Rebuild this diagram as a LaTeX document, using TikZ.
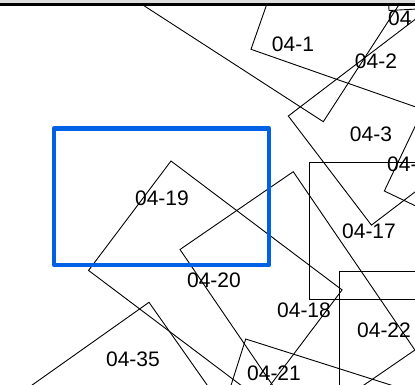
\documentclass[tikz,border=0pt]{standalone}
\usepackage{fontspec}
\setmainfont{Liberation Sans}
\definecolor{selblue}{RGB}{0,96,230}
\definecolor{topgrey}{RGB}{222,222,222}

\begin{document}
\begin{tikzpicture}[x=1pt, y=-1pt,
    lot/.style={draw=black, line width=0.9pt},
    lotlabel/.style={font=\fontsize{21}{25}\selectfont, inner sep=0pt},
    selbox/.style={draw=selblue, line width=4.8pt, line join=round}]
    \useasboundingbox (0,0) rectangle (415,384);
    \clip (0,0) rectangle (415,384);
    \fill[topgrey] (0,0) rectangle (415,3.2);

    \begin{scope}
    \clip (0,4) rectangle (415,384);
    % lots, one corner and two sides each
    \draw[lot] (251,49.3) -- ++(19.3:250) -- ++(-70.7:150) -- ++(199.3:250) -- cycle;
    \draw[lot] (323.3,121.7) -- ++(-57.1:150) -- ++(212.9:250) -- ++(122.9:150) -- cycle;
    \draw[lot] (288.3,116) -- ++(52.7:137.2) -- ++(-37.3:200) -- ++(232.7:137.2) -- cycle;
    \draw[lot] (384.3,191) -- ++(25.5:100) -- ++(-64.5:150) -- ++(205.5:100) -- cycle;
    \draw[lot] (389,10.5) -- ++(-3:60) -- ++(-93:20) -- ++(177:60) -- cycle;
    \draw[lot] (309,162.3) rectangle (450,299.3);
    \draw[lot] (339.3,271.7) rectangle (450,420);
    \draw[lot] (171,161) -- ++(37:214.2) -- ++(127:137) -- ++(217:214.2) -- cycle;
    \draw[lot] (180,249.5) -- ++(-34.5:137.4) -- ++(55.7:215.9) -- ++(145.5:137.4) -- cycle;
    \draw[lot] (245.7,339) -- ++(17.6:200) -- ++(107.6:100) -- ++(197.6:200) -- cycle;
    \draw[lot] (149,302.3) -- ++(54.9:150) -- ++(144.7:200) -- ++(234.9:150) -- cycle;
    \end{scope}

    \draw[line width=2.4pt] (0,4.5) -- (415,4.5);

    % selected lot
    \draw[selbox] (54,128.5) rectangle (269,265);

    % labels
    \node[lotlabel] (l1) at (293,44.5) {04-1};
    \node[lotlabel] (l2) at (376,61) {04-2};
    \node[lotlabel] (l3) at (371,134) {04-3};
    \node[lotlabel, anchor=west] (l4) at (387,164) {04-};
    \node[lotlabel, anchor=west] (l5) at (388,18) {04};
    \node[lotlabel] (l17) at (369,231) {04-17};
    \node[lotlabel] (l19) at (162,198) {04-19};
    \node[lotlabel] (l20) at (214,280.5) {04-20};
    \node[lotlabel] (l18) at (304,310) {04-18};
    \node[lotlabel] (l22) at (384,330.5) {04-22};
    \node[lotlabel] (l21) at (274,373) {04-21};
    \node[lotlabel] (l35) at (133,359.5) {04-35};
\end{tikzpicture}
\end{document}
